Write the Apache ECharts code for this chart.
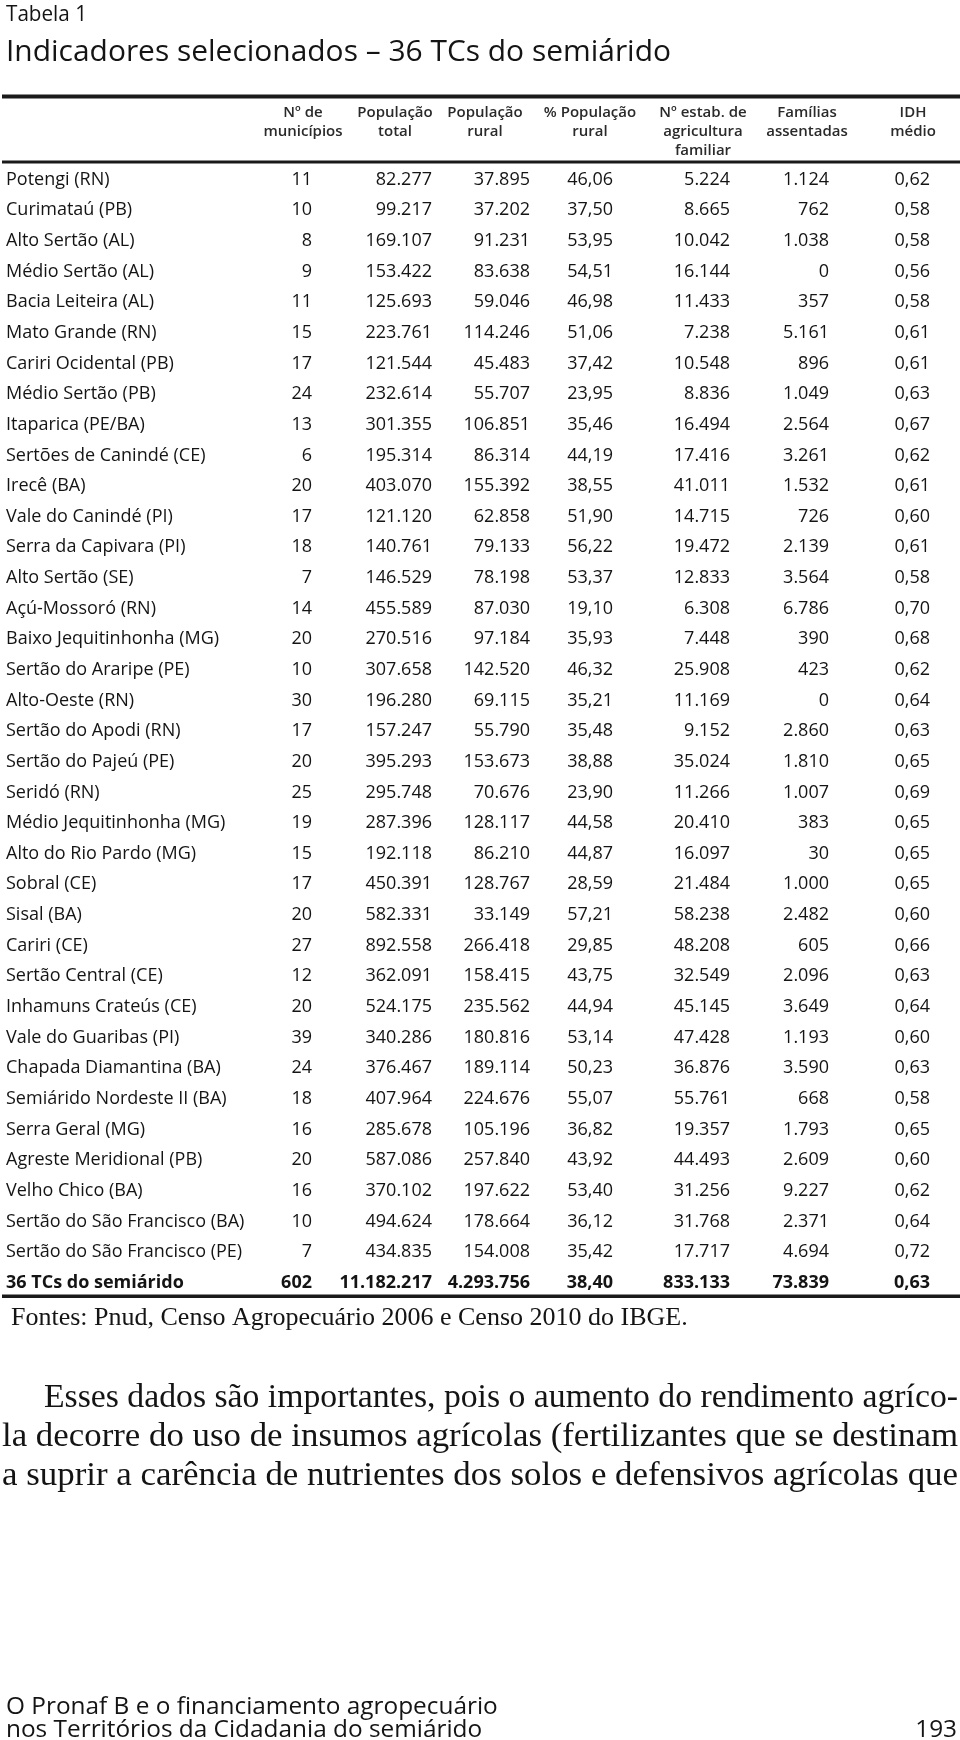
<!DOCTYPE html>
<html>
<head>
<meta charset="utf-8">
<script src="https://cdn.jsdelivr.net/npm/echarts@6/dist/echarts.min.js"></script>
<style>
html,body{margin:0;padding:0;background:#fff;}
#chart{width:960px;height:1740px;}
</style>
</head>
<body>
<div id="chart"></div>
<script>
// ---------- DATA ----------
const territorios = [
  "Potengi (RN)","Curimataú (PB)","Alto Sertão (AL)","Médio Sertão (AL)","Bacia Leiteira (AL)",
  "Mato Grande (RN)","Cariri Ocidental (PB)","Médio Sertão (PB)","Itaparica (PE/BA)","Sertões de Canindé (CE)",
  "Irecê (BA)","Vale do Canindé (PI)","Serra da Capivara (PI)","Alto Sertão (SE)","Açú-Mossoró (RN)",
  "Baixo Jequitinhonha (MG)","Sertão do Araripe (PE)","Alto-Oeste (RN)","Sertão do Apodi (RN)","Sertão do Pajeú (PE)",
  "Seridó (RN)","Médio Jequitinhonha (MG)","Alto do Rio Pardo (MG)","Sobral (CE)","Sisal (BA)",
  "Cariri (CE)","Sertão Central (CE)","Inhamuns Crateús (CE)","Vale do Guaribas (PI)","Chapada Diamantina (BA)",
  "Semiárido Nordeste II (BA)","Serra Geral (MG)","Agreste Meridional (PB)","Velho Chico (BA)","Sertão do São Francisco (BA)",
  "Sertão do São Francisco (PE)","36 TCs do semiárido"
];
const nMunicipios = [11,10,8,9,11,15,17,24,13,6,20,17,18,7,14,20,10,30,17,20,25,19,15,17,20,27,12,20,39,24,18,16,20,16,10,7,602];
const popTotal = [82277,99217,169107,153422,125693,223761,121544,232614,301355,195314,403070,121120,140761,146529,455589,270516,307658,196280,157247,395293,295748,287396,192118,450391,582331,892558,362091,524175,340286,376467,407964,285678,587086,370102,494624,434835,11182217];
const popRural = [37895,37202,91231,83638,59046,114246,45483,55707,106851,86314,155392,62858,79133,78198,87030,97184,142520,69115,55790,153673,70676,128117,86210,128767,33149,266418,158415,235562,180816,189114,224676,105196,257840,197622,178664,154008,4293756];
const pctRural = [46.06,37.50,53.95,54.51,46.98,51.06,37.42,23.95,35.46,44.19,38.55,51.90,56.22,53.37,19.10,35.93,46.32,35.21,35.48,38.88,23.90,44.58,44.87,28.59,57.21,29.85,43.75,44.94,53.14,50.23,55.07,36.82,43.92,53.40,36.12,35.42,38.40];
const nEstab = [5224,8665,10042,16144,11433,7238,10548,8836,16494,17416,41011,14715,19472,12833,6308,7448,25908,11169,9152,35024,11266,20410,16097,21484,58238,48208,32549,45145,47428,36876,55761,19357,44493,31256,31768,17717,833133];
const familias = [1124,762,1038,0,357,5161,896,1049,2564,3261,1532,726,2139,3564,6786,390,423,0,2860,1810,1007,383,30,1000,2482,605,2096,3649,1193,3590,668,1793,2609,9227,2371,4694,73839];
const idh = [0.62,0.58,0.58,0.56,0.58,0.61,0.61,0.63,0.67,0.62,0.61,0.60,0.61,0.58,0.70,0.68,0.62,0.64,0.63,0.65,0.69,0.65,0.65,0.65,0.60,0.66,0.63,0.64,0.60,0.63,0.58,0.65,0.60,0.62,0.64,0.72,0.63];
const colunas = ["Nº de\nmunicípios","População\ntotal","População\nrural","% População\nrural","Nº estab. de\nagricultura\nfamiliar","Famílias\nassentadas","IDH\nmédio"];

const tabelaLabel = "Tabela 1";
const titulo = "Indicadores selecionados – 36 TCs do semiárido";
const fonte = "Fontes: Pnud, Censo Agropecuário 2006 e Censo 2010 do IBGE.";
const paragrafo = [
  "Esses dados são importantes, pois o aumento do rendimento agríco-",
  "la decorre do uso de insumos agrícolas (fertilizantes que se destinam",
  "a suprir a carência de nutrientes dos solos e defensivos agrícolas que"
];
const rodape = ["O Pronaf B e o financiamento agropecuário","nos Territórios da Cidadania do semiárido"];
const pagina = "193";

// ---------- FORMAT ----------
const fmtInt = n => String(n).replace(/\B(?=(\d{3})+(?!\d))/g, '.');
const fmtDec = n => n.toFixed(2).replace('.', ',');
const columnsData = [
  nMunicipios.map(fmtInt), popTotal.map(fmtInt), popRural.map(fmtInt),
  pctRural.map(fmtDec), nEstab.map(fmtInt), familias.map(fmtInt), idh.map(fmtDec)
];

// ---------- LAYOUT ----------
const SANS = '"Open Sans", "Noto Sans", sans-serif';
const SERIF = '"Liberation Serif", "DejaVu Serif", serif';
const TEXT = '#141414';
const BODY_SIZE = 18;
const COL_RIGHT = [312, 432, 530, 613, 730, 829, 930];
const COL_CENTER = [303, 395, 485, 590, 703, 807, 913];
const ROW_H = 30.64;
const GRID_TOP = 164.3;
const nRows = territorios.length;
const lastRow = nRows - 1;

const mctx = document.createElement('canvas').getContext('2d');
function textW(t, font) { mctx.font = font; return mctx.measureText(t).width; }
// text scaled horizontally to a target width
function fittedText(t, x, y, size, family, target, extra) {
  const sx = target / textW(t, size + 'px ' + family);
  return Object.assign({type:'text', x:x, y:y, originX:0, originY:0, scaleX:sx,
    style:{text:t, fill:TEXT, fontFamily:family, fontSize:size, verticalAlign:'middle'}}, extra || {});
}

const cells = [];
const cellText = [];
columnsData.forEach((arr, c) => {
  arr.forEach((txt, r) => {
    cells.push([COL_RIGHT[c], r]);
    cellText.push(txt);
  });
});

const graphics = [];
// title texts
graphics.push(fittedText(tabelaLabel, 6, 15, 22, SANS, 81));
graphics.push(fittedText(titulo, 6, 53, 29, SANS, 665));
// rules
graphics.push({type:'rect', shape:{x:2, y:94.5, width:958, height:4}, style:{fill:'#1a1a1a'}});
graphics.push({type:'rect', shape:{x:2, y:160.5, width:958, height:3}, style:{fill:'#1a1a1a'}});
graphics.push({type:'rect', shape:{x:2, y:1294.5, width:958, height:3.5}, style:{fill:'#1a1a1a'}});
// column headers
colunas.forEach((h, c) => {
  h.split('\n').forEach((line, k) => {
    graphics.push({type:'text', x:COL_CENTER[c], y:113 + k*19, style:{text:line, fill:'#2a2a2a', fontFamily:SANS, fontWeight:600, fontSize:15, align:'center', verticalAlign:'middle'}});
  });
});
// source
graphics.push({type:'text', x:11, y:1318, style:{text:fonte, fill:TEXT, fontFamily:SERIF, fontSize:26, verticalAlign:'middle'}});
// justified paragraph (each line fitted to the measure)
const PARA_X1 = 958;
const paraStarts = [44, 2, 2];
paragrafo.forEach((line, i) => {
  graphics.push(fittedText(line, paraStarts[i], 1398 + i*39, 34, SERIF, PARA_X1 - paraStarts[i]));
});
// footer
const footSize = 21 * 492 / textW(rodape[0], '21px ' + SANS);
rodape.forEach((t, i) => {
  graphics.push({type:'text', x:6, y:1707 + i*23, style:{text:t, fill:TEXT, fontFamily:SANS, fontSize:footSize, verticalAlign:'middle'}});
});
graphics.push({type:'text', x:957, y:1730, style:{text:pagina, fill:TEXT, fontFamily:SANS, fontSize:footSize, align:'right', verticalAlign:'middle'}});

const chart = echarts.init(document.getElementById('chart'), null, {renderer:'canvas'});
chart.setOption({
  animation: false,
  backgroundColor: '#fff',
  grid: {left:0, right:0, top:GRID_TOP, height:ROW_H*nRows, containLabel:false},
  xAxis: {type:'value', min:0, max:960, show:false},
  yAxis: {
    type:'category', data:territorios, inverse:true,
    axisLine:{show:false}, axisTick:{show:false}, splitLine:{show:false},
    axisLabel:{
      inside:true, margin:6, align:'left', color:TEXT, fontFamily:SANS, fontSize:BODY_SIZE,
      formatter:(v, i) => i === lastRow ? '{b|' + v + '}' : v,
      rich:{b:{fontWeight:'bold', fontFamily:SANS, fontSize:BODY_SIZE, color:TEXT}}
    }
  },
  series: [{
    type:'custom',
    coordinateSystem:'cartesian2d',
    data: cells,
    clip:false,
    renderItem: (params, api) => {
      const p = api.coord([api.value(0), api.value(1)]);
      const r = api.value(1);
      return {
        type:'text', x:p[0], y:p[1],
        style:{text:cellText[params.dataIndex], fill:TEXT, fontFamily:SANS, fontSize:BODY_SIZE,
               fontWeight: r === lastRow ? 'bold' : 'normal', align:'right', verticalAlign:'middle'}
      };
    }
  }],
  graphic: graphics
});
</script>
</body>
</html>
